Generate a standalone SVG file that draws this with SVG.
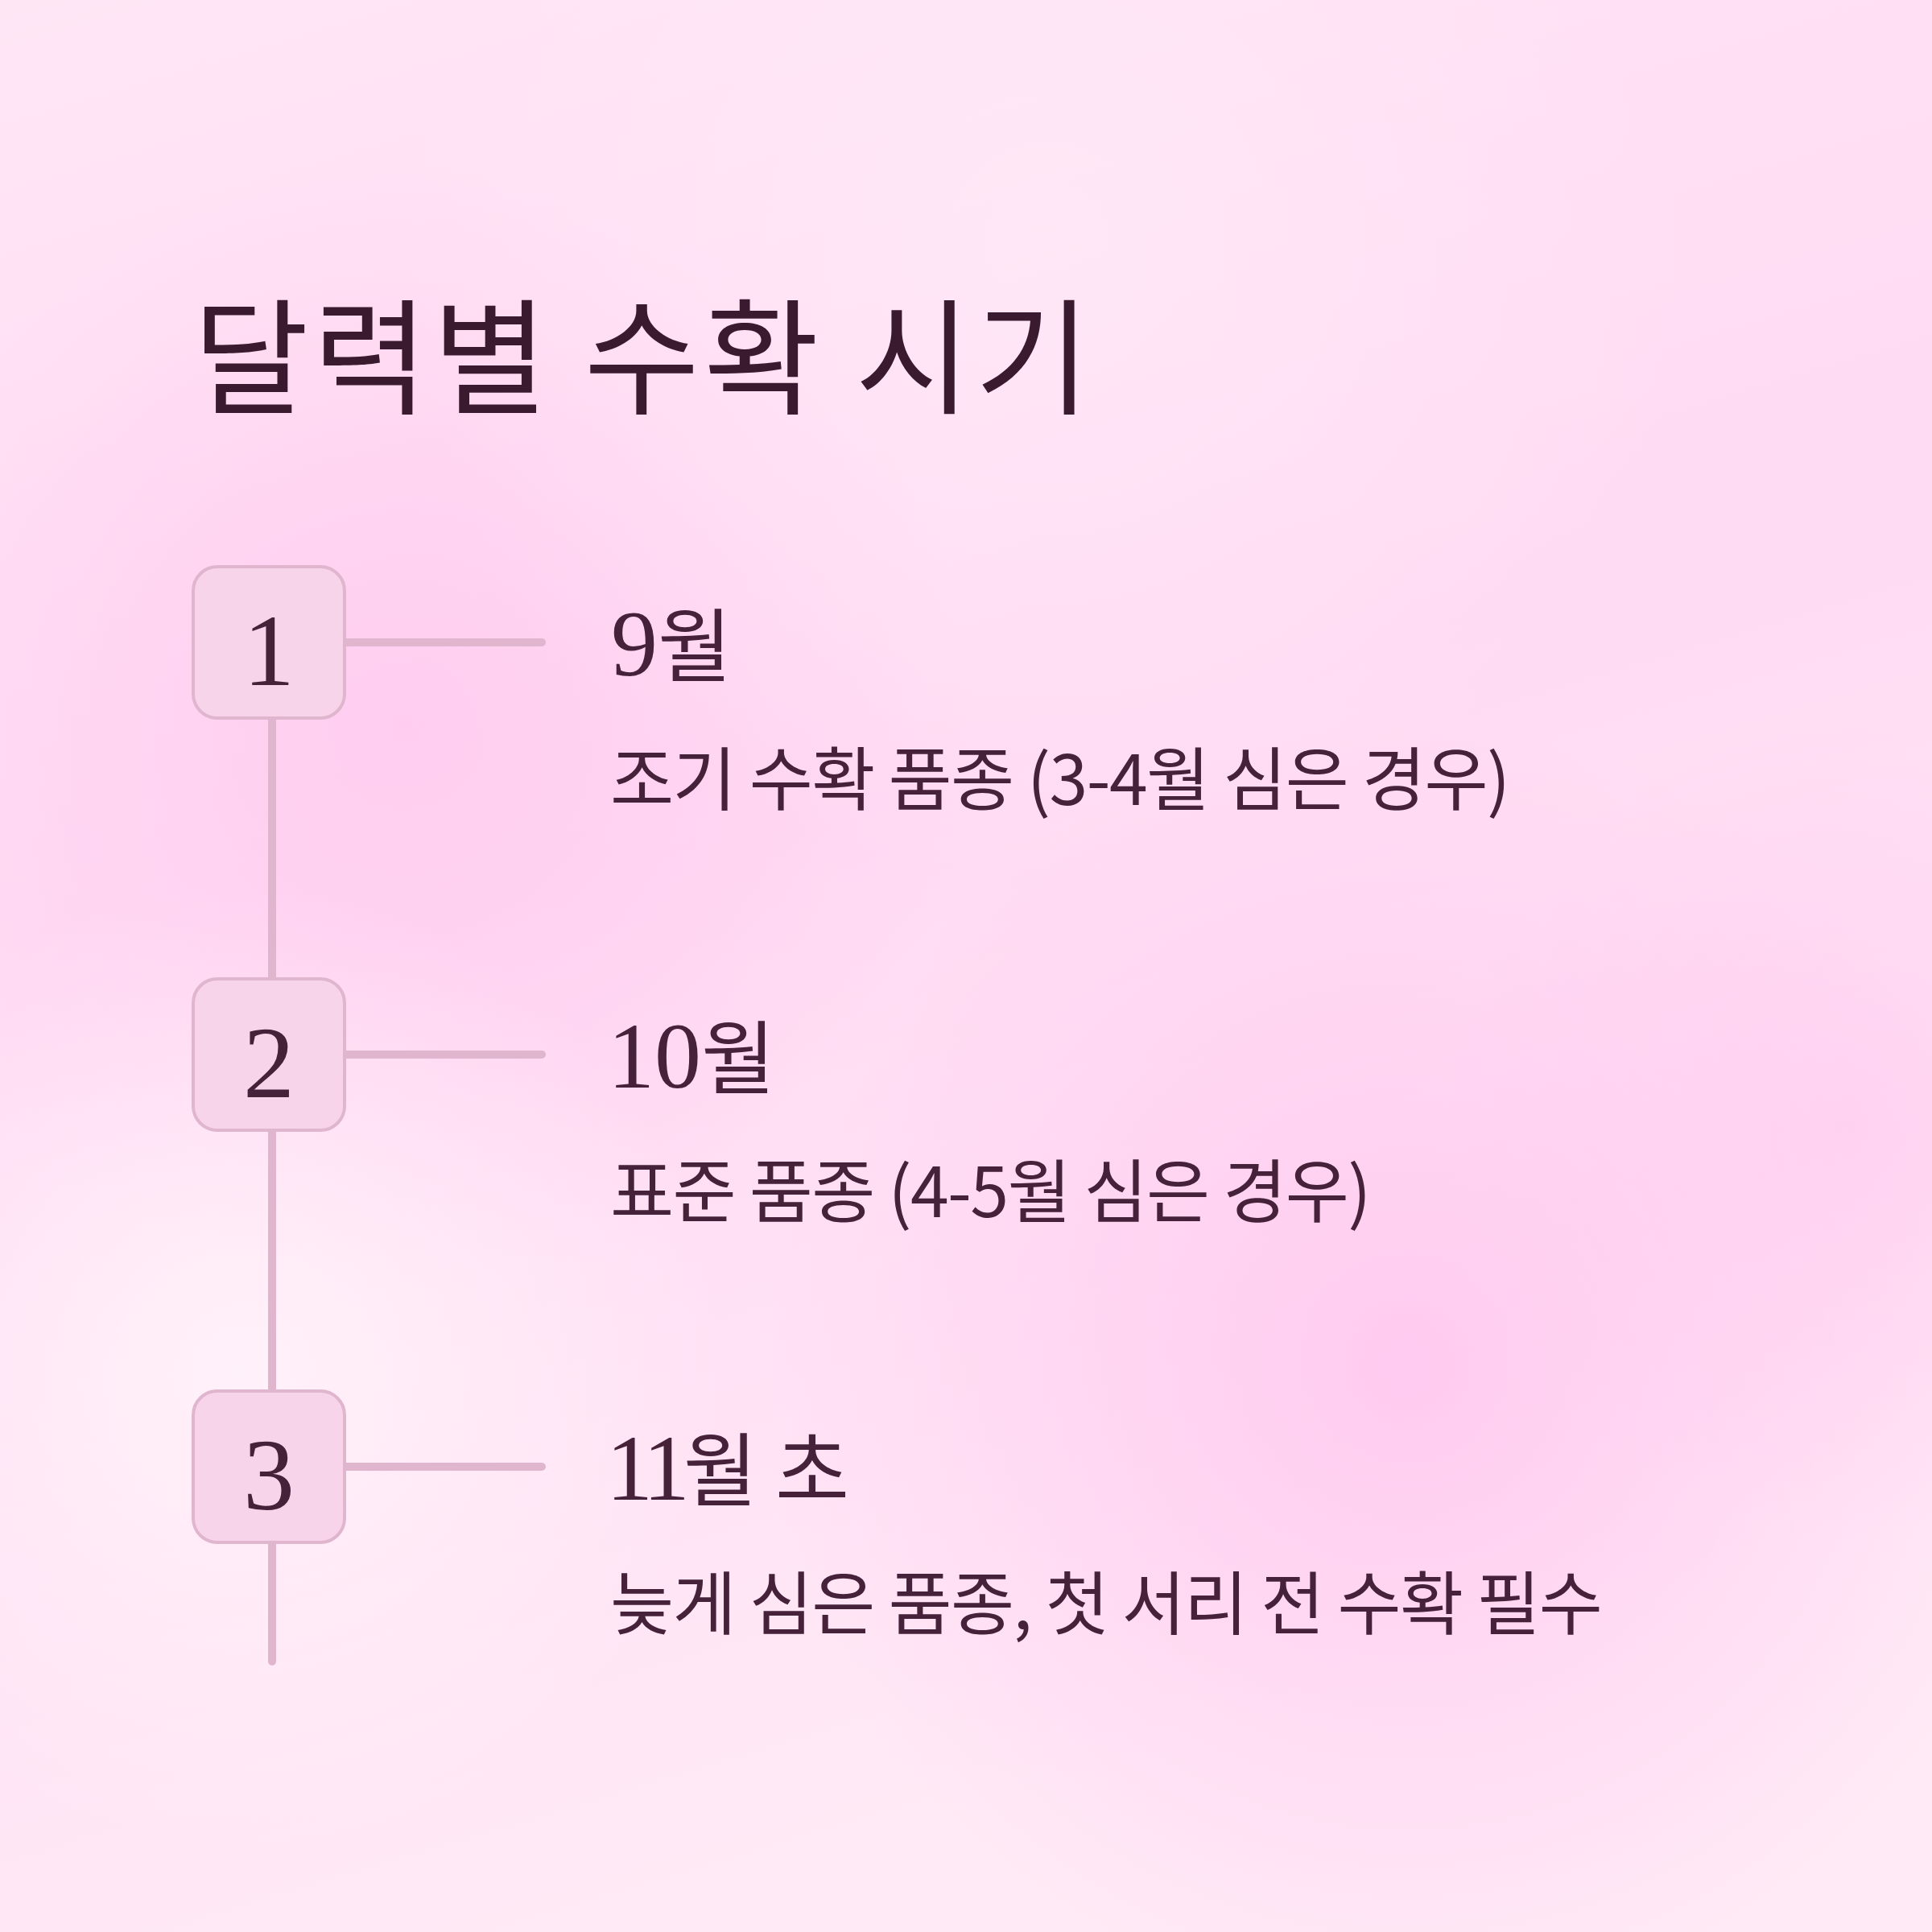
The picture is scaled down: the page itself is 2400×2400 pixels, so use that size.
<svg xmlns="http://www.w3.org/2000/svg" width="2400" height="2400" viewBox="0 0 2400 2400">
<defs>
<linearGradient id="bg" x1="0" y1="0" x2="0.3" y2="1">
<stop offset="0" stop-color="#ffe6f5"/>
<stop offset="0.5" stop-color="#ffdaf3"/>
<stop offset="1" stop-color="#ffeaf6"/>
</linearGradient>
<radialGradient id="b1" cx="500" cy="900" r="700" gradientUnits="userSpaceOnUse">
<stop offset="0" stop-color="#ffc9ef" stop-opacity="0.8"/>
<stop offset="1" stop-color="#ffc9ef" stop-opacity="0"/>
</radialGradient>
<radialGradient id="b2" cx="1750" cy="1700" r="800" gradientUnits="userSpaceOnUse">
<stop offset="0" stop-color="#ffc6ef" stop-opacity="0.85"/>
<stop offset="1" stop-color="#ffc6ef" stop-opacity="0"/>
</radialGradient>
<radialGradient id="b3" cx="2300" cy="1400" r="500" gradientUnits="userSpaceOnUse">
<stop offset="0" stop-color="#ffc9ef" stop-opacity="0.6"/>
<stop offset="1" stop-color="#ffc9ef" stop-opacity="0"/>
</radialGradient>
<radialGradient id="w1" cx="300" cy="1700" r="600" gradientUnits="userSpaceOnUse">
<stop offset="0" stop-color="#fff3fa" stop-opacity="0.9"/>
<stop offset="1" stop-color="#fff3fa" stop-opacity="0"/>
</radialGradient>
<radialGradient id="w2" cx="1300" cy="300" r="800" gradientUnits="userSpaceOnUse">
<stop offset="0" stop-color="#ffeaf7" stop-opacity="0.7"/>
<stop offset="1" stop-color="#ffeaf7" stop-opacity="0"/>
</radialGradient>
</defs>
<style>
.title{font-family:"Noto Sans CJK KR","Noto Sans",sans-serif;font-size:156px;font-weight:400;letter-spacing:5px;fill:#3a1a2e}
.num{font-family:"Liberation Serif","Noto Sans CJK KR",serif;font-size:128px;fill:#45223a;text-anchor:middle}
.head{font-family:"Noto Sans CJK KR","Noto Sans",sans-serif;font-size:100px;fill:#45223a}
.dg{font-family:"Liberation Serif","Noto Sans CJK KR",serif;font-size:116px}
.desc{font-family:"Noto Sans CJK KR","Noto Sans",sans-serif;font-size:86px;letter-spacing:-1.6px;fill:#45223a}
.box{fill:#f8d4ea;stroke:#e0b6cf;stroke-width:4}
.line{stroke:#e0b6cf;stroke-width:10;stroke-linecap:round;fill:none}
</style>
<rect width="2400" height="2400" fill="url(#bg)"/>
<rect width="2400" height="2400" fill="url(#b1)"/>
<rect width="2400" height="2400" fill="url(#b2)"/>
<rect width="2400" height="2400" fill="url(#b3)"/>
<rect width="2400" height="2400" fill="url(#w1)"/>
<rect width="2400" height="2400" fill="url(#w2)"/>

<text id="title" class="title" x="240" y="502">달력별 수확 시기</text>

<g id="connectors">
<line class="line" x1="338" y1="798" x2="338" y2="2064"/>
<line class="line" x1="428" y1="798" x2="673" y2="798"/>
<line class="line" x1="428" y1="1310" x2="673" y2="1310"/>
<line class="line" x1="428" y1="1822" x2="673" y2="1822"/>
</g>

<g id="step1">
<rect class="box" x="240" y="704" width="188" height="188" rx="30"/>
<text class="num" x="334" y="851">1</text>
<text class="head" x="759" y="839"><tspan class="dg">9</tspan>월</text>
<text class="desc" x="758" y="1000">조기 수확 품종 (3-4월 심은 경우)</text>
</g>
<g id="step2">
<rect class="box" x="240" y="1216" width="188" height="188" rx="30"/>
<text class="num" x="334" y="1363">2</text>
<text class="head" x="755" y="1351"><tspan class="dg">10</tspan>월</text>
<text class="desc" x="758" y="1512">표준 품종 (4-5월 심은 경우)</text>
</g>
<g id="step3">
<rect class="box" x="240" y="1728" width="188" height="188" rx="30"/>
<text class="num" x="334" y="1875">3</text>
<text class="head" x="753" y="1863"><tspan class="dg" letter-spacing="-8px">11</tspan>월 초</text>
<text class="desc" x="758" y="2024">늦게 심은 품종, 첫 서리 전 수확 필수</text>
</g>
</svg>
